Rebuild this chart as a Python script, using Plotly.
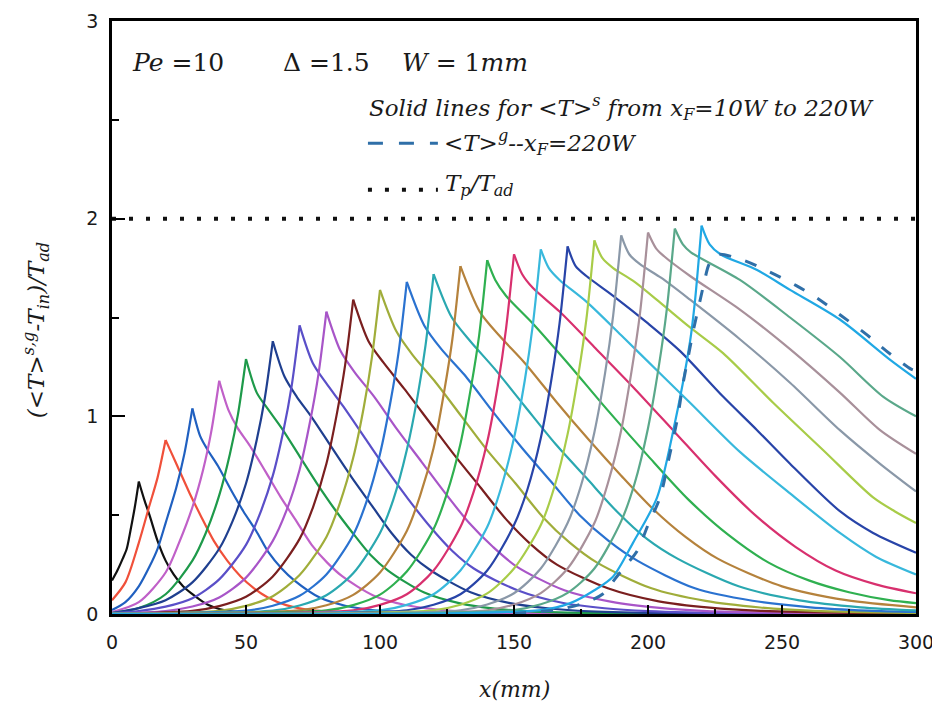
import plotly.graph_objects as go

# ---------------- data ----------------
front_positions = [10, 20, 30, 40, 50, 60, 70, 80, 90, 100, 110,
                   120, 130, 140, 150, 160, 170, 180, 190, 200, 210, 220]

curve_colors = ["#111111", "#f0503a", "#2060c0", "#c060c8", "#1e9a4a", "#1f3f8f",
                "#5a4fc8", "#a855c8", "#7a1f1f", "#a0ad3a", "#2a72d0", "#2aa8b0",
                "#b5823c", "#2fb050", "#d8306e", "#38b8dc", "#2844a8", "#a8cc48",
                "#8a98a8", "#a8909a", "#5aa88a", "#20a8e4"]

c10_x = [0, 2, 4, 5.5, 7, 8.5, 10, 12, 14, 17, 20, 23, 26.5, 30, 33, 36, 40, 45, 50, 60, 80, 300]
c10_y = [0.17, 0.22, 0.28, 0.33, 0.43, 0.54, 0.67, 0.58, 0.50, 0.37, 0.27, 0.20, 0.14, 0.10, 0.07,
         0.045, 0.025, 0.012, 0.006, 0.002, 0.001, 0.001]

c20_x = [0, 5, 10, 14, 17, 20, 22, 25, 29, 33, 38, 43, 48, 53, 58, 65, 75, 90, 110, 300]
c20_y = [0.07, 0.16, 0.36, 0.55, 0.69, 0.88, 0.82, 0.73, 0.61, 0.50, 0.37, 0.27, 0.19, 0.13, 0.085,
         0.045, 0.018, 0.006, 0.002, 0.001]

c30_x = [0, 5, 10, 14, 17, 20, 24, 27, 30, 32.9, 35.7, 39.5, 44.3, 49, 53.8, 58.5, 63.3, 68, 77.5,
         87, 96.5, 106, 125, 300]
c30_y = [0.02, 0.06, 0.14, 0.24, 0.33, 0.46, 0.64, 0.81, 1.04, 0.90, 0.83, 0.75, 0.63, 0.52, 0.42,
         0.31, 0.23, 0.17, 0.083, 0.042, 0.021, 0.010, 0.003, 0.001]

c40_x = [0, 10, 20, 25, 30, 34, 37, 40, 43.5, 46.9, 51.5, 57.3, 63, 68.8, 74.5, 80.3, 86, 97.5,
         109, 120.5, 132, 155, 300]
c40_y = [0.01, 0.06, 0.21, 0.36, 0.54, 0.73, 0.92, 1.18, 1.03, 0.94, 0.85, 0.72, 0.59, 0.47, 0.35,
         0.26, 0.19, 0.094, 0.047, 0.024, 0.012, 0.004, 0.001]

c50_x = [0, 10, 20, 30, 35, 40, 44, 47, 50, 54, 58, 63.3, 69.9, 76.5, 83.1, 89.8, 96.4, 103, 116.3,
         129.5, 142.8, 156, 182.5, 300]
c50_y = [0.005, 0.03, 0.10, 0.27, 0.41, 0.60, 0.81, 1.01, 1.29, 1.12, 1.04, 0.94, 0.80, 0.66, 0.53,
         0.41, 0.30, 0.22, 0.11, 0.055, 0.027, 0.013, 0.004, 0.001]

c60_x = [0, 10, 20, 30, 40, 45, 50, 54, 57, 60, 64.4, 68.9, 74.8, 82.1, 89.5, 96.9, 104.3, 111.6,
         119, 133.8, 148.5, 163.3, 178, 207.5, 300]
c60_y = [0.005, 0.03, 0.07, 0.16, 0.33, 0.47, 0.66, 0.88, 1.09, 1.38, 1.20, 1.10, 0.99, 0.84, 0.69,
         0.55, 0.41, 0.30, 0.22, 0.11, 0.055, 0.028, 0.014, 0.004, 0.001]

c70_x = [0, 10, 20, 30, 40, 50, 55, 60, 64, 67, 70, 74.9, 79.8, 86.3, 94.4, 102.5, 110.6, 118.8,
         126.9, 135, 151.3, 167.5, 183.8, 200, 232.5, 300]
c70_y = [0.004, 0.015, 0.037, 0.080, 0.175, 0.35, 0.50, 0.70, 0.93, 1.15, 1.46, 1.27, 1.17, 1.05,
         0.89, 0.73, 0.58, 0.44, 0.32, 0.23, 0.12, 0.058, 0.029, 0.015, 0.004, 0.001]

c80_x = [0, 20, 30, 40, 50, 60, 65, 70, 74, 77, 80, 85.3, 90.7, 97.8, 106.6, 115.5, 124.4, 133.3,
         142.1, 151, 168.8, 186.5, 204.3, 222, 257.5, 300]
c80_y = [0.002, 0.015, 0.038, 0.084, 0.184, 0.37, 0.52, 0.73, 0.98, 1.21, 1.53, 1.33, 1.22, 1.10,
         0.93, 0.77, 0.61, 0.46, 0.34, 0.24, 0.12, 0.061, 0.031, 0.015, 0.005, 0.002]

c90_x = [0, 30, 40, 50, 60, 70, 75, 80, 84, 87, 90, 95.7, 101.4, 109, 118.5, 128, 137.5, 147,
         156.5, 166, 185, 204, 223, 242, 280, 300]
c90_y = [0.001, 0.016, 0.040, 0.087, 0.19, 0.38, 0.54, 0.76, 1.02, 1.26, 1.59, 1.38, 1.27, 1.14,
         0.97, 0.80, 0.64, 0.48, 0.35, 0.25, 0.13, 0.064, 0.032, 0.016, 0.005, 0.003]

c100_x = [0, 40, 50, 60, 70, 80, 85, 90, 94, 97, 100, 106.1, 112.2, 120.3, 130.4, 140.5, 150.6,
          160.8, 170.9, 181, 201.3, 221.5, 241.8, 262, 300]
c100_y = [0.001, 0.016, 0.041, 0.090, 0.197, 0.39, 0.56, 0.79, 1.05, 1.30, 1.64, 1.43, 1.31, 1.18,
          1.00, 0.82, 0.66, 0.49, 0.36, 0.26, 0.13, 0.066, 0.033, 0.016, 0.005]

c110_x = [0, 50, 60, 70, 80, 90, 95, 100, 104, 107, 110, 116.5, 122.9, 131.5, 142.3, 153, 163.8,
          174.5, 185.3, 196, 217.5, 239, 260.5, 282, 300]
c110_y = [0.001, 0.017, 0.042, 0.092, 0.20, 0.40, 0.57, 0.81, 1.08, 1.33, 1.68, 1.46, 1.34, 1.21,
          1.02, 0.84, 0.67, 0.50, 0.37, 0.27, 0.13, 0.067, 0.034, 0.017, 0.010]

c120_x = [0, 60, 70, 80, 90, 100, 105, 110, 114, 117, 120, 126.8, 133.7, 142.8, 154.1, 165.5,
          176.9, 188.3, 199.6, 211, 233.8, 256.5, 279.3, 300]
c120_y = [0.001, 0.017, 0.043, 0.095, 0.206, 0.41, 0.58, 0.83, 1.10, 1.36, 1.72, 1.50, 1.38, 1.24,
          1.05, 0.86, 0.69, 0.52, 0.38, 0.28, 0.14, 0.069, 0.034, 0.018]

c130_x = [0, 70, 80, 90, 100, 110, 115, 120, 124, 127, 130, 137.2, 144.4, 154, 166, 178, 190, 202,
          214, 226, 250, 274, 300]
c130_y = [0.001, 0.018, 0.044, 0.097, 0.21, 0.42, 0.60, 0.84, 1.13, 1.39, 1.76, 1.53, 1.41, 1.27,
          1.07, 0.88, 0.70, 0.53, 0.39, 0.28, 0.14, 0.070, 0.034]

c140_x = [0, 80, 90, 100, 110, 120, 125, 130, 134, 137, 140, 143, 147, 157, 170, 185, 200, 215,
          230, 245, 260, 275, 290, 300]
c140_y = [0.001, 0.018, 0.045, 0.098, 0.215, 0.43, 0.61, 0.86, 1.15, 1.41, 1.79, 1.69, 1.61, 1.47,
          1.27, 1.03, 0.80, 0.58, 0.40, 0.26, 0.17, 0.11, 0.07, 0.055]

c150_x = [0, 90, 100, 110, 120, 130, 135, 140, 144, 147, 150, 153, 157, 167, 180, 195, 210, 225,
          240, 255, 270, 285, 300]
c150_y = [0.001, 0.018, 0.046, 0.10, 0.22, 0.44, 0.62, 0.87, 1.16, 1.44, 1.82, 1.72, 1.65, 1.53,
          1.35, 1.14, 0.92, 0.70, 0.50, 0.34, 0.22, 0.15, 0.105]

c160_x = [0, 100, 110, 120, 130, 140, 145, 150, 154, 157, 160, 163, 167, 177, 190, 205, 215.6,
          234.3, 253, 271.6, 285, 300]
c160_y = [0.001, 0.018, 0.046, 0.10, 0.22, 0.44, 0.63, 0.89, 1.18, 1.46, 1.845, 1.75, 1.69, 1.58,
          1.41, 1.21, 1.07, 0.82, 0.61, 0.41, 0.29, 0.20]

c170_x = [0, 110, 120, 130, 140, 150, 155, 160, 164, 167, 170, 173, 177, 187, 200, 212, 228,
          240.7, 253, 271.6, 284, 300]
c170_y = [0.001, 0.019, 0.047, 0.10, 0.22, 0.45, 0.63, 0.89, 1.19, 1.47, 1.86, 1.76, 1.71, 1.61,
          1.47, 1.33, 1.10, 0.93, 0.76, 0.52, 0.41, 0.31]

c180_x = [0, 120, 130, 140, 150, 160, 165, 170, 174, 177, 180, 183, 187, 195, 205, 215.7, 228,
          246.6, 265.3, 284, 292, 300]
c180_y = [0.001, 0.019, 0.047, 0.104, 0.23, 0.45, 0.64, 0.91, 1.21, 1.49, 1.89, 1.80, 1.75, 1.68,
          1.57, 1.45, 1.32, 1.07, 0.83, 0.59, 0.52, 0.46]

c190_x = [0, 130, 140, 150, 160, 170, 175, 180, 184, 187, 190, 193, 197, 205, 215.7, 234.3, 253,
          271.6, 286.6, 300]
c190_y = [0.001, 0.019, 0.048, 0.105, 0.23, 0.46, 0.65, 0.92, 1.22, 1.51, 1.915, 1.82, 1.77, 1.70,
          1.59, 1.39, 1.17, 0.93, 0.76, 0.62]

c200_x = [0, 140, 150, 160, 170, 180, 185, 190, 194, 197, 200, 203, 206, 215.7, 234.3, 253, 271.6,
          286.6, 300]
c200_y = [0.001, 0.019, 0.048, 0.106, 0.23, 0.46, 0.66, 0.93, 1.24, 1.52, 1.93, 1.85, 1.81, 1.71,
          1.54, 1.34, 1.12, 0.93, 0.81]

c210_x = [0, 150, 160, 170, 180, 190, 195, 200, 204, 207, 210, 213, 216, 234.3, 253, 271.6, 287.7,
          300]
c210_y = [0.001, 0.02, 0.049, 0.107, 0.23, 0.47, 0.66, 0.94, 1.25, 1.54, 1.95, 1.87, 1.83, 1.69,
          1.50, 1.30, 1.10, 1.00]

c220_x = [0, 160, 171, 180, 187, 194.4, 203.4, 209.3, 215.7, 217.5, 220, 223, 227, 240.7, 253,
          271.6, 290, 300]
c220_y = [0.001, 0.02, 0.055, 0.12, 0.19, 0.36, 0.59, 0.92, 1.38, 1.58, 1.965, 1.87, 1.82, 1.74,
          1.64, 1.49, 1.29, 1.19]

gas_x = [150, 165, 175, 183, 188.4, 192, 196, 200, 204.5, 208, 211, 213, 215, 217, 219, 221,
         222.5, 224.5, 227, 235.5, 245.5, 255.5, 264, 272, 281, 289, 298, 300]
gas_y = [0.003, 0.02, 0.05, 0.10, 0.19, 0.25, 0.32, 0.45, 0.59, 0.80, 0.99, 1.16, 1.30, 1.44, 1.56,
         1.68, 1.76, 1.81, 1.82, 1.79, 1.73, 1.66, 1.59, 1.51, 1.42, 1.33, 1.24, 1.23]

tp_x = [0, 300]
tp_y = [2.0, 2.0]

x_ticks = [0, 50, 100, 150, 200, 250, 300]
y_ticks = [0, 1, 2, 3]

solid_curves = [(c10_x, c10_y), (c20_x, c20_y), (c30_x, c30_y), (c40_x, c40_y), (c50_x, c50_y),
                (c60_x, c60_y), (c70_x, c70_y), (c80_x, c80_y), (c90_x, c90_y), (c100_x, c100_y),
                (c110_x, c110_y), (c120_x, c120_y), (c130_x, c130_y), (c140_x, c140_y),
                (c150_x, c150_y), (c160_x, c160_y), (c170_x, c170_y), (c180_x, c180_y),
                (c190_x, c190_y), (c200_x, c200_y), (c210_x, c210_y), (c220_x, c220_y)]

# ---------------- figure ----------------
SERIF = "DejaVu Serif, Liberation Serif, serif"
SANS = "DejaVu Sans, Liberation Sans, sans-serif"
TXT = "#1a1a1a"

fig = go.Figure()

for (xs, ys), col, xf in zip(solid_curves, curve_colors, front_positions):
    i = ys.index(max(ys))
    for sx, sy in ((xs[:i + 1], ys[:i + 1]), (xs[i:], ys[i:])):
        fig.add_trace(go.Scatter(
            x=sx, y=sy, mode="lines", name=f"x_F={xf}W",
            line=dict(color=col, width=2.2, shape="spline", smoothing=0.8),
            showlegend=False, hoverinfo="skip"))

fig.add_trace(go.Scatter(
    x=gas_x, y=gas_y, mode="lines", showlegend=False, hoverinfo="skip",
    line=dict(color="#2f6fa8", width=3, dash="12px,15px", shape="spline", smoothing=0.8)))

fig.add_trace(go.Scatter(
    x=tp_x, y=tp_y, mode="lines", showlegend=False, hoverinfo="skip",
    line=dict(color="#111111", width=4, dash="4px,13px")))

# legend samples
fig.add_shape(type="line", x0=95.5, x1=121.6, y0=2.382, y1=2.382, xref="x", yref="y",
              line=dict(color="#2f6fa8", width=3, dash="15px,16px"))
fig.add_shape(type="line", x0=95.5, x1=121.6, y0=2.146, y1=2.146, xref="x", yref="y",
              line=dict(color="#111111", width=4, dash="4px,13px"))

ann_font = dict(family=SERIF, size=23, color=TXT)
big_font = dict(family=SERIF, size=25, color=TXT)

fig.add_annotation(x=6.7, y=2.79, xref="x", yref="y", xanchor="left", yanchor="middle",
                   text="<i>Pe</i> =10", showarrow=False, font=big_font)
fig.add_annotation(x=63.1, y=2.79, xref="x", yref="y", xanchor="left", yanchor="middle",
                   text="Δ =1.5", showarrow=False, font=big_font)
fig.add_annotation(x=107.5, y=2.79, xref="x", yref="y", xanchor="left", yanchor="middle",
                   text="<i>W</i> = 1<i>mm</i>", showarrow=False, font=big_font)
fig.add_annotation(x=95.1, y=2.56, xref="x", yref="y", xanchor="left", yanchor="middle",
                   text="<i>Solid lines for &lt;T&gt;<sup>s</sup> from x<sub>F</sub>=10W to 220W</i>",
                   showarrow=False, font=ann_font)
fig.add_annotation(x=123.1, y=2.385, xref="x", yref="y", xanchor="left", yanchor="middle",
                   text="<i>&lt;T&gt;<sup>g</sup>--x<sub>F</sub>=220W</i>",
                   showarrow=False, font=ann_font)
fig.add_annotation(x=123.5, y=2.17, xref="x", yref="y", xanchor="left", yanchor="middle",
                   text="<i>T<sub>p</sub>/T<sub>ad</sub></i>",
                   showarrow=False, font=ann_font)

# axis titles
fig.add_annotation(x=0.5, y=-0.127, xref="paper", yref="paper", xanchor="center", yanchor="middle",
                   text="<i>x(mm)</i>", showarrow=False, font=dict(family=SERIF, size=22, color=TXT))
fig.add_annotation(x=-0.095, y=0.478, xref="paper", yref="paper", xanchor="center", yanchor="middle",
                   textangle=-90,
                   text="<i>(&lt;T&gt;<sup>s,g</sup>-T<sub>in</sub>)/T<sub>ad</sub></i>",
                   showarrow=False, font=dict(family=SERIF, size=23, color=TXT))

# The page body adds an 8px offset; margins compensate so the plot area lands at
# nearly the same window pixels as the reference (x 112..916, y ~20..614).
fig.update_layout(
    width=940, height=706,
    margin=dict(l=104, r=32, t=13, b=100),
    paper_bgcolor="white", plot_bgcolor="white",
    showlegend=False,
)
fig.update_xaxes(
    range=[0, 300], tickvals=x_ticks, ticks="inside", ticklen=9, tickwidth=2, tickcolor="black",
    minor=dict(dtick=25, tick0=0, ticks="inside", ticklen=5, tickwidth=1.5, tickcolor="black"),
    showline=True, linewidth=2.5, linecolor="black", mirror=True, automargin=False,
    showgrid=False, zeroline=False, ticklabelstandoff=9, ticklabeloverflow="allow",
    tickfont=dict(family=SANS, size=19, color=TXT))
fig.update_yaxes(
    range=[0, 3], tickvals=y_ticks, ticks="inside", ticklen=13, tickwidth=2, tickcolor="black",
    minor=dict(dtick=0.5, tick0=0, ticks="inside", ticklen=7, tickwidth=1.5, tickcolor="black"),
    showline=True, linewidth=2.5, linecolor="black", mirror=True, automargin=False,
    showgrid=False, zeroline=False, ticklabelstandoff=7, ticklabeloverflow="allow",
    tickfont=dict(family=SANS, size=19, color=TXT))

fig.write_html("out.html")
